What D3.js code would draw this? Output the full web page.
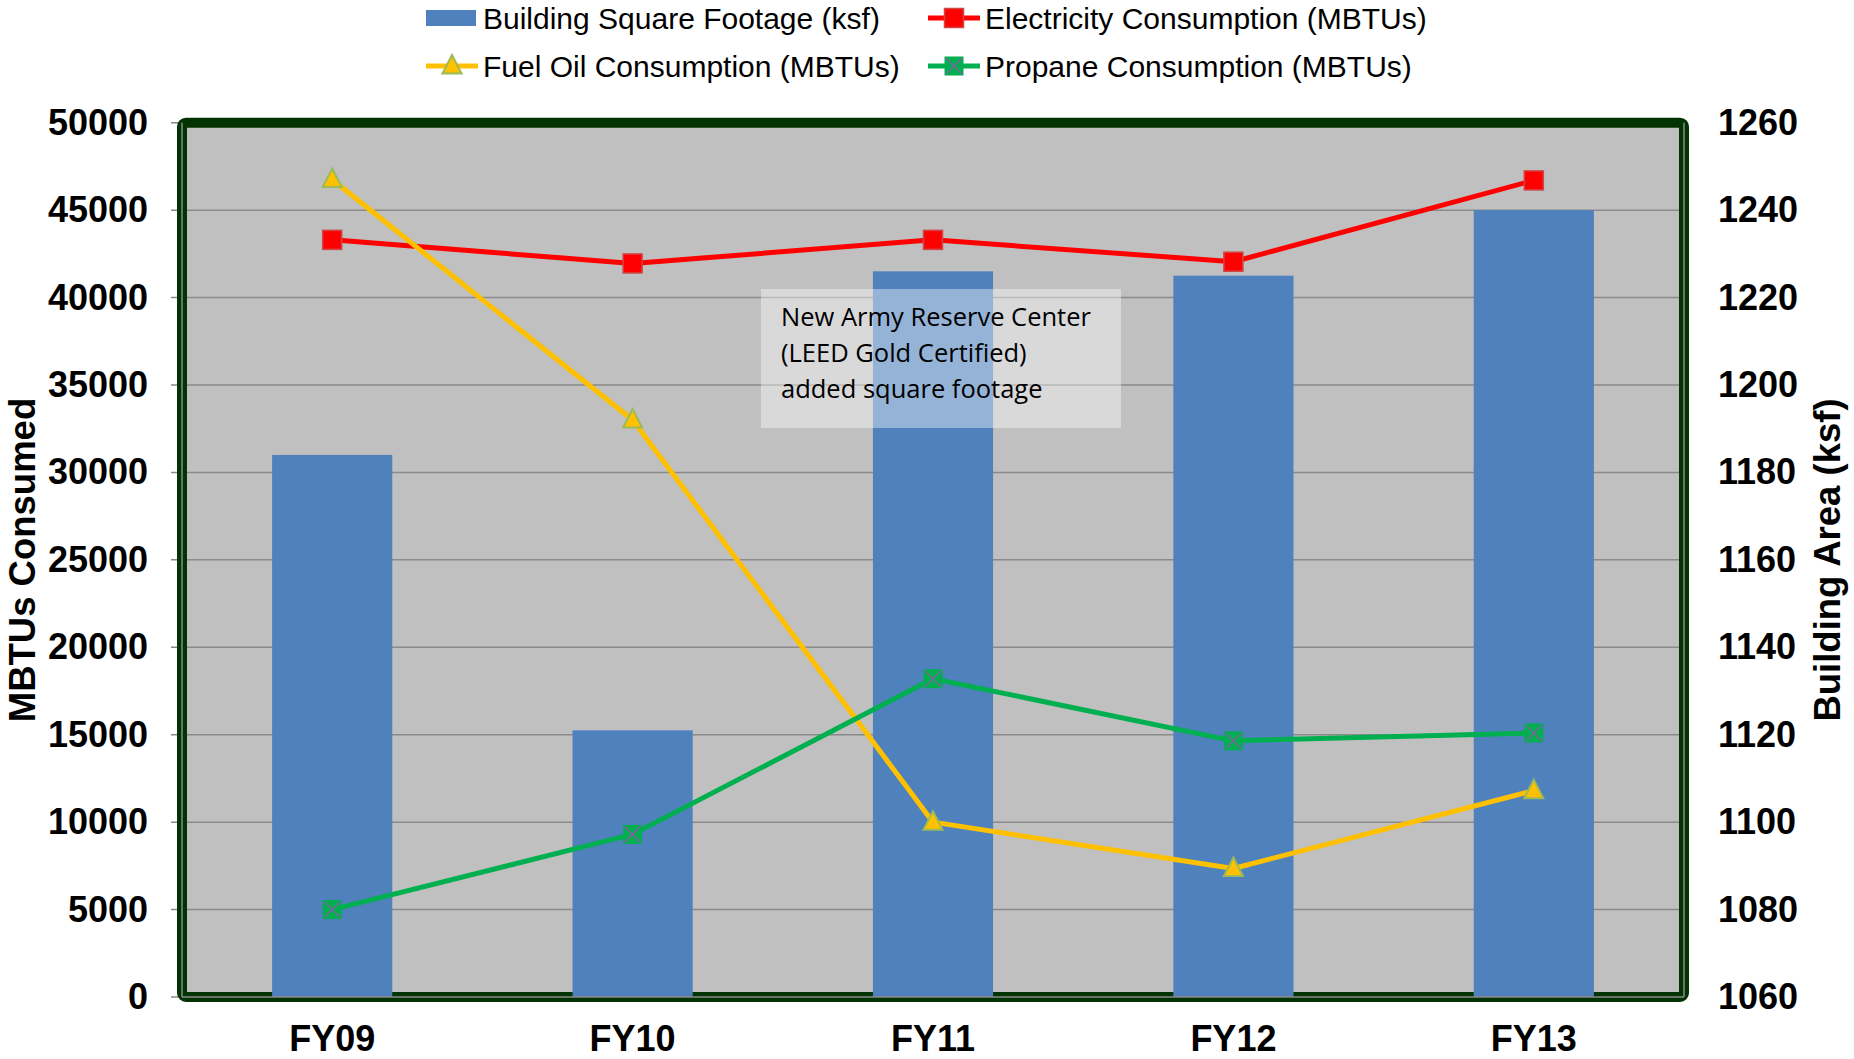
<!DOCTYPE html>
<html>
<head>
<meta charset="utf-8">
<script src="https://cdn.jsdelivr.net/npm/d3@7"></script>
<style>
	body { margin: 0; background: #fff; }
	svg { display: block; font-family: "Liberation Sans", Arial, sans-serif; }
	.tick text { font-weight: bold; font-size: 36px; fill: #000; }
	.legend text { font-size: 30px; fill: #000; }
	.note text { font-family: "Open Sans", "Noto Sans", sans-serif; font-size: 25.5px; fill: #000; }
</style>
</head>
<body>
<script>
// chart values
var categories = ["FY09", "FY10", "FY11", "FY12", "FY13"];
var buildingKsf = [1184, 1121, 1226, 1225, 1240];
var electricity = [43300, 41950, 43300, 42050, 46700];
var fuelOil = [46750, 33000, 10000, 7350, 11800];
var propane = [5000, 9300, 18200, 14650, 15100];

var leftTicks = [0, 5000, 10000, 15000, 20000, 25000, 30000, 35000, 40000, 45000, 50000];
var rightTicks = [1060, 1080, 1100, 1120, 1140, 1160, 1180, 1200, 1220, 1240, 1260];
var noteLines = ["New Army Reserve Center", "(LEED Gold Certified)", "added square footage"];

(function(){
	var width = 1854,
		height = 1059;

	// plot area
	var plot = {left: 182, right: 1684, top: 122.7, bottom: 997};

	var svg = d3.select("body")
		.append("svg")
		.attr("width", width)
		.attr("height", height);

	var x = d3.scaleBand()
		.domain(categories)
		.range([plot.left, plot.right])
		.paddingInner(0.6)
		.paddingOuter(0.3);

	var yLeft = d3.scaleLinear()
		.domain([0, 50000])
		.range([plot.bottom, plot.top]);

	var yRight = d3.scaleLinear()
		.domain([1060, 1260])
		.range([plot.bottom, plot.top]);

	//background
	svg.append("rect")
		.attr("x", plot.left)
		.attr("y", plot.top)
		.attr("width", plot.right - plot.left)
		.attr("height", plot.bottom - plot.top)
		.attr("fill", "#c0c0c0");

	//gridlines
	svg.selectAll(".grid")
		.data(leftTicks)
		.enter()
		.append("line")
		.attr("class", "grid")
		.attr("x1", plot.left - 11)
		.attr("x2", plot.right)
		.attr("y1", function(d){ return yLeft(d); })
		.attr("y2", function(d){ return yLeft(d); })
		.attr("stroke", "#8a8a8a")
		.attr("stroke-width", 1.5);

	//dark frame
	svg.append("rect")
		.attr("x", plot.left)
		.attr("y", plot.top)
		.attr("width", plot.right - plot.left)
		.attr("height", plot.bottom - plot.top)
		.attr("rx", 4)
		.attr("fill", "none")
		.attr("stroke", "#023302")
		.attr("stroke-width", 10);

	//bars on the right axis
	svg.selectAll(".bar")
		.data(buildingKsf)
		.enter()
		.append("rect")
		.attr("class", "bar")
		.attr("x", function(d, i){ return x(categories[i]); })
		.attr("width", x.bandwidth())
		.attr("y", function(d){ return yRight(d); })
		.attr("height", function(d){ return plot.bottom - yRight(d); })
		.attr("fill", "#4f81bd");

	//gray axis lines inside the frame
	svg.append("line")
		.attr("x1", plot.left).attr("x2", plot.left)
		.attr("y1", plot.top).attr("y2", plot.bottom)
		.attr("stroke", "#8a8a8a").attr("stroke-width", 1.5);
	svg.append("line")
		.attr("x1", plot.right).attr("x2", plot.right)
		.attr("y1", plot.top).attr("y2", plot.bottom)
		.attr("stroke", "#8a8a8a").attr("stroke-width", 1.5);
	svg.append("line")
		.attr("x1", plot.left).attr("x2", plot.right)
		.attr("y1", plot.bottom).attr("y2", plot.bottom)
		.attr("stroke", "#8a8a8a").attr("stroke-width", 1.5);

	//axes
	var leftAxis = d3.axisLeft(yLeft)
		.tickValues(leftTicks)
		.tickFormat(d3.format("d"))
		.tickSize(0)
		.tickPadding(34);
	svg.append("g")
		.attr("transform", "translate(" + plot.left + ",0)")
		.call(leftAxis)
		.call(function(g){ g.select(".domain").remove(); });

	var rightAxis = d3.axisRight(yRight)
		.tickValues(rightTicks)
		.tickFormat(d3.format("d"))
		.tickSize(0)
		.tickPadding(34);
	svg.append("g")
		.attr("transform", "translate(" + plot.right + ",0)")
		.call(rightAxis)
		.call(function(g){ g.select(".domain").remove(); });

	var bottomAxis = d3.axisBottom(x)
		.tickSize(0)
		.tickPadding(28);
	svg.append("g")
		.attr("transform", "translate(0," + plot.bottom + ")")
		.call(bottomAxis)
		.call(function(g){ g.select(".domain").remove(); });

	//axis titles
	svg.append("text")
		.attr("transform", "translate(35,560) rotate(-90)")
		.attr("text-anchor", "middle")
		.style("font-weight", "bold")
		.style("font-size", "36.5px")
		.text("MBTUs Consumed");
	svg.append("text")
		.attr("transform", "translate(1840,560) rotate(-90)")
		.attr("text-anchor", "middle")
		.style("font-weight", "bold")
		.style("font-size", "36.5px")
		.text("Building Area (ksf)");

	//annotation
	var note = svg.append("g").attr("class", "note");
	note.append("rect")
		.attr("x", 761)
		.attr("y", 289)
		.attr("width", 360)
		.attr("height", 139)
		.attr("fill", "#fff")
		.attr("fill-opacity", 0.4);
	note.selectAll("text")
		.data(noteLines)
		.enter()
		.append("text")
		.attr("x", 781)
		.attr("y", function(d, i){ return 326 + i * 36; })
		.text(function(d){ return d; });

	var cx = function(d, i){ return x(categories[i]) + x.bandwidth() / 2; };

	var series = [
		{name: "Electricity Consumption (MBTUs)", values: electricity, color: "#ff0000", marker: "square"},
		{name: "Fuel Oil Consumption (MBTUs)", values: fuelOil, color: "#ffc000", marker: "triangle"},
		{name: "Propane Consumption (MBTUs)", values: propane, color: "#00b050", marker: "cross"}
	];

	function drawMarker(g, type, px, py){
		if (type == "square"){
			g.append("rect")
				.attr("x", px - 9.5).attr("y", py - 9.5)
				.attr("width", 19).attr("height", 19)
				.attr("fill", "#ff0000")
				.attr("stroke", "#d04545").attr("stroke-width", 1.5);
		} else if (type == "triangle"){
			g.append("path")
				.attr("d", "M" + px + "," + (py - 11) + "L" + (px + 9.5) + "," + (py + 7.5) + "L" + (px - 9.5) + "," + (py + 7.5) + "Z")
				.attr("fill", "#ffc000")
				.attr("stroke", "#9bbb59").attr("stroke-width", 2);
		} else {
			g.append("rect")
				.attr("x", px - 9.5).attr("y", py - 9.5)
				.attr("width", 19).attr("height", 19)
				.attr("fill", "#00b050");
			g.append("path")
				.attr("d", "M" + (px - 8) + "," + (py - 8) + "L" + (px + 8) + "," + (py + 8) + "M" + (px + 8) + "," + (py - 8) + "L" + (px - 8) + "," + (py + 8))
				.attr("stroke", "#8064a2").attr("stroke-width", 1.5);
		}
	}

	var line = d3.line()
		.x(cx)
		.y(function(d){ return yLeft(d); });

	series.forEach(function(s){
		var g = svg.append("g");
		g.append("path")
			.datum(s.values)
			.attr("d", line)
			.attr("fill", "none")
			.attr("stroke", s.color)
			.attr("stroke-width", 5)
			.attr("stroke-linejoin", "round");
		s.values.forEach(function(v, i){
			drawMarker(g, s.marker, cx(v, i), yLeft(v));
		});
	});

	//legend
	var legend = svg.append("g").attr("class", "legend");
	var items = [
		{name: "Building Square Footage (ksf)", x: 426, y: 18, type: "bar"},
		{name: series[0].name, x: 928, y: 18, type: "line", s: series[0]},
		{name: series[1].name, x: 426, y: 66, type: "line", s: series[1]},
		{name: series[2].name, x: 928, y: 66, type: "line", s: series[2]}
	];
	items.forEach(function(it){
		if (it.type == "bar"){
			legend.append("rect")
				.attr("x", it.x).attr("y", it.y - 8)
				.attr("width", 50).attr("height", 16)
				.attr("fill", "#4f81bd");
		} else {
			legend.append("line")
				.attr("x1", it.x).attr("x2", it.x + 52)
				.attr("y1", it.y).attr("y2", it.y)
				.attr("stroke", it.s.color).attr("stroke-width", 5);
			drawMarker(legend, it.s.marker, it.x + 26, it.y);
		}
		legend.append("text")
			.attr("x", it.x + 57)
			.attr("y", it.y + 10.5)
			.text(it.name);
	});
})();
</script>
</body>
</html>
